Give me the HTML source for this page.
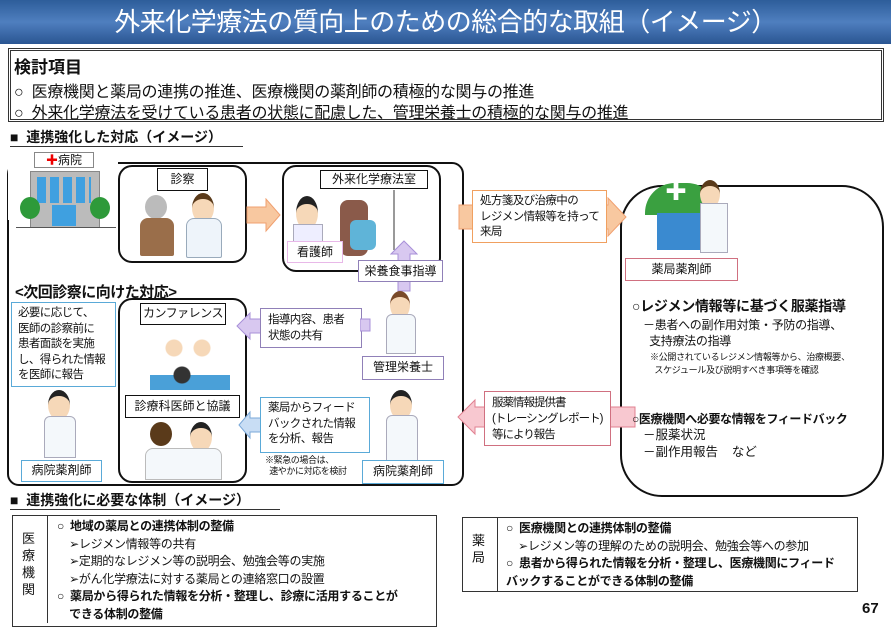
<!DOCTYPE html>
<html><head><meta charset="utf-8"><style>
body{margin:0;width:891px;height:623px;overflow:hidden;background:#fff;font-family:"Liberation Sans","Noto Sans CJK JP",sans-serif;color:#111;position:relative}
.a{position:absolute;white-space:nowrap}
.bx{position:absolute;box-sizing:border-box;background:#fff;white-space:nowrap;overflow:visible}
.t{font-size:11.5px;letter-spacing:-0.6px}
.lbl{position:absolute;box-sizing:border-box;background:#fff;text-align:center;font-size:12px;line-height:1;white-space:nowrap}
b{font-weight:bold}
</style></head><body>
<div class="a" style="left:0;top:0;width:891px;height:44px;background:linear-gradient(#2d5d9a,#4f7fbf 50%,#2a5592);"></div>
<div class="a" style="left:0;top:5px;width:891px;text-align:center;color:#fff;font-size:26px;line-height:34px;letter-spacing:-0.5px">外来化学療法の質向上のための総合的な取組（イメージ）</div>
<div class="bx" style="left:8px;top:48px;width:876px;height:74px;border:3px double #333"></div>
<div class="a" style="left:14px;top:53px;font-size:17px;font-weight:bold">検討項目</div>
<div class="a" style="left:14px;top:78px;font-size:16px;letter-spacing:-0.3px">○&nbsp; 医療機関と薬局の連携の推進、医療機関の薬剤師の積極的な関与の推進</div>
<div class="a" style="left:14px;top:99px;font-size:16px;letter-spacing:-0.3px">○&nbsp; 外来化学療法を受けている患者の状態に配慮した、管理栄養士の積極的な関与の推進</div>
<div class="a" style="left:10px;top:129px;font-size:14px;font-weight:bold;border-bottom:1.5px solid #333;width:233px;line-height:17px">■&nbsp; 連携強化した対応（イメージ）</div>

<div class="bx" style="left:7px;top:162px;width:457px;height:324px;border:2px solid #111;border-radius:12px;background:transparent"></div>
<div class="a" style="left:8px;top:150px;width:110px;height:70px;background:#fff"></div>
<div class="lbl" style="left:34px;top:152px;width:60px;height:16px;border:1px solid #888;font-size:12px;line-height:14px"><span style="color:#e00">✚</span>病院</div>
<div class="a" style="left:30px;top:171px;width:68px;height:55px;background:#bbb;border:1px solid #888"></div>
<div class="a" style="left:37px;top:177px;width:54px;height:26px;background:repeating-linear-gradient(90deg,#3fa0e0 0 9px,transparent 9px 13px)"></div>
<div class="a" style="left:52px;top:205px;width:24px;height:21px;background:#3fa0e0"></div>
<div class="a" style="left:20px;top:197px;width:20px;height:22px;border-radius:50%;background:#2e9a3a"></div>
<div class="a" style="left:90px;top:197px;width:20px;height:22px;border-radius:50%;background:#2e9a3a"></div>
<div class="a" style="left:16px;top:227px;width:100px;height:1px;background:#555"></div>

<div class="bx" style="left:118px;top:165px;width:129px;height:98px;border:2px solid #111;border-radius:14px"></div>
<div class="lbl" style="left:157px;top:168px;width:51px;height:23px;border:1.5px solid #111;line-height:20px">診察</div>
<div class="a" style="left:145px;top:195px;width:22px;height:24px;border-radius:50%;background:#bbb"></div>
<div class="a" style="left:140px;top:218px;width:34px;height:38px;border-radius:8px 8px 2px 2px;background:#9a6e4a"></div>
<div class="a" style="left:192px;top:193px;width:22px;height:24px;border-radius:50%;background:#f6d8b8;border-top:6px solid #5a3a1a"></div>
<div class="a" style="left:186px;top:218px;width:34px;height:38px;border-radius:8px 8px 2px 2px;background:#eef4fa;border:1px solid #9ab"></div>
<svg class="a" style="left:246px;top:198px" width="36" height="36"><polygon points="1,9 20,9 20,1 34,17 20,33 20,25 1,25" fill="#f8c8a0" stroke="#f0a070"/></svg>

<div class="bx" style="left:282px;top:165px;width:159px;height:107px;border:2px solid #111;border-radius:14px"></div>
<div class="lbl" style="left:320px;top:170px;width:108px;height:19px;border:1.5px solid #111;line-height:16px">外来化学療法室</div>
<div class="a" style="left:296px;top:196px;width:22px;height:26px;border-radius:50%;background:#f6d8b8;border-top:8px solid #222"></div>
<div class="a" style="left:293px;top:224px;width:28px;height:18px;background:#eef;border:1px solid #aab"></div>
<div class="a" style="left:340px;top:200px;width:28px;height:56px;border-radius:8px;background:#8a5a4a"></div>
<div class="a" style="left:350px;top:220px;width:26px;height:30px;background:#5fb4d8;border-radius:6px"></div>
<div class="a" style="left:393px;top:190px;width:2px;height:60px;background:#999"></div>
<div class="lbl" style="left:287px;top:241px;width:56px;height:22px;border:1px solid #e8b8e8;line-height:20px">看護師</div>
<svg class="a" style="left:390px;top:240px" width="28" height="52"><polygon points="14,1 27,14 20,14 20,51 8,51 8,14 1,14" fill="#d8c8f0" stroke="#a890d8"/></svg>
<div class="lbl" style="left:358px;top:260px;width:85px;height:22px;border:1px solid #9080b8;line-height:20px">栄養食事指導</div>

<div class="a" style="left:15px;top:281px;font-size:15px;font-weight:bold;letter-spacing:-0.5px">&lt;次回診察に向けた対応&gt;</div>
<div class="bx t" style="left:11px;top:302px;width:105px;height:85px;border:1.5px solid #5aaad8;line-height:15.5px;padding:3px 0 0 6px">必要に応じて、<br>医師の診察前に<br>患者面談を実施<br>し、得られた情報<br>を医師に報告</div>
<div class="a" style="left:48px;top:390px;width:22px;height:24px;border-radius:50%;background:#f6d8b8;border-top:6px solid #222"></div>
<div class="a" style="left:44px;top:416px;width:30px;height:40px;background:#f4f8fb;border:1px solid #aab;border-radius:6px 6px 0 0"></div>
<div class="lbl" style="left:21px;top:460px;width:81px;height:22px;border:1.5px solid #5aaad8;line-height:19px">病院薬剤師</div>

<div class="bx" style="left:118px;top:298px;width:129px;height:185px;border:2px solid #111;border-radius:14px"></div>
<div class="lbl" style="left:140px;top:303px;width:86px;height:22px;border:1.5px solid #111;line-height:19px;letter-spacing:-0.5px">カンファレンス</div>
<div class="a" style="left:150px;top:330px;width:80px;height:60px;background:radial-gradient(circle at 30% 30%,#f6d8b8 0 8px,transparent 9px),radial-gradient(circle at 65% 30%,#f6d8b8 0 8px,transparent 9px),radial-gradient(circle at 40% 75%,#333 0 8px,transparent 9px),linear-gradient(transparent 75%,#4aa0d8 75%)"></div>
<div class="lbl" style="left:125px;top:395px;width:115px;height:23px;border:1.5px solid #111;line-height:20px">診療科医師と協議</div>
<div class="a" style="left:150px;top:422px;width:22px;height:24px;border-radius:50%;background:#5a3a1a"></div>
<div class="a" style="left:190px;top:422px;width:22px;height:24px;border-radius:50%;background:#f6d8b8;border-top:6px solid #222"></div>
<div class="a" style="left:145px;top:448px;width:75px;height:30px;background:#f4f8fb;border:1px solid #bbb;border-radius:8px 8px 0 0"></div>

<svg class="a" style="left:236px;top:306px" width="30" height="40"><polygon points="1,20 14,7 14,13 29,13 29,27 14,27 14,33" fill="#d8c8f0" stroke="#a890d8"/></svg>
<div class="bx t" style="left:260px;top:308px;width:102px;height:40px;border:1.5px solid #9080b8;line-height:16px;padding:3px 0 0 7px">指導内容、患者<br>状態の共有</div>
<svg class="a" style="left:360px;top:318px" width="14" height="20"><rect x="0" y="1" width="10" height="12" fill="#d8c8f0" stroke="#a890d8"/></svg>
<div class="a" style="left:390px;top:291px;width:20px;height:22px;border-radius:50%;background:#f6d8b8;border-top:6px solid #7a4a2a"></div>
<div class="a" style="left:386px;top:314px;width:28px;height:38px;background:#f4f8fb;border:1px solid #aab;border-radius:6px 6px 0 0"></div>
<div class="lbl" style="left:362px;top:356px;width:82px;height:24px;border:1.5px solid #9080b8;line-height:21px">管理栄養士</div>

<svg class="a" style="left:238px;top:405px" width="26" height="40"><polygon points="1,20 12,7 12,13 25,13 25,27 12,27 12,33" fill="#c8ddf4" stroke="#7aa8d8"/></svg>
<div class="bx t" style="left:260px;top:397px;width:110px;height:56px;border:1.5px solid #5aaad8;line-height:15.5px;padding:3px 0 0 7px">薬局からフィード<br>バックされた情報<br>を分析、報告</div>
<div class="a" style="left:265px;top:455px;font-size:9px;line-height:11px;letter-spacing:-0.4px">※緊急の場合は、<br>&nbsp;&nbsp;速やかに対応を検討</div>
<div class="a" style="left:390px;top:390px;width:22px;height:24px;border-radius:50%;background:#f6d8b8;border-top:6px solid #222"></div>
<div class="a" style="left:386px;top:415px;width:30px;height:44px;background:#f4f8fb;border:1px solid #aab;border-radius:6px 6px 0 0"></div>
<div class="lbl" style="left:362px;top:460px;width:82px;height:24px;border:1.5px solid #5aaad8;line-height:21px">病院薬剤師</div>

<div class="bx" style="left:620px;top:185px;width:264px;height:312px;border:2px solid #111;border-radius:42px;background:transparent"></div>
<svg class="a" style="left:458px;top:197px" width="170" height="40"><polygon points="1,8 150,8 150,1 168,20 150,39 150,32 1,32" fill="#f8c8a0" stroke="#f0a070"/></svg>
<div class="bx t" style="left:472px;top:190px;width:135px;height:53px;border:1.5px solid #f0a060;line-height:15.5px;padding:3px 0 0 7px">処方箋及び治療中の<br>レジメン情報等を持って<br>来局</div>
<div class="a" style="left:645px;top:183px;width:72px;height:32px;background:#3aa040;border-radius:30px 30px 0 0"></div>
<div class="a" style="left:665px;top:180px;font-size:22px;color:#fff;font-weight:bold;line-height:24px">✚</div>
<div class="a" style="left:657px;top:213px;width:48px;height:37px;background:#3a8ad0"></div>
<div class="a" style="left:700px;top:180px;width:20px;height:22px;border-radius:50%;background:#f6d8b8;border-top:6px solid #5a3a1a"></div>
<div class="a" style="left:700px;top:203px;width:26px;height:48px;background:#f4f8fb;border:1px solid #aab"></div>
<div class="lbl" style="left:625px;top:258px;width:113px;height:23px;border:1.5px solid #d07080;line-height:20px">薬局薬剤師</div>
<div class="a" style="left:632px;top:296px;font-size:14px;font-weight:bold;letter-spacing:-0.3px">○レジメン情報等に基づく服薬指導</div>
<div class="a" style="left:643px;top:317px;font-size:12px;line-height:16px;letter-spacing:-0.3px">－患者への副作用対策・予防の指導、<br>&nbsp;&nbsp;支持療法の指導</div>
<div class="a" style="left:650px;top:351px;font-size:9px;line-height:12.5px;letter-spacing:-0.3px">※公開されているレジメン情報等から、治療概要、<br>&nbsp;&nbsp;スケジュール及び説明すべき事項等を確認</div>
<svg class="a" style="left:457px;top:397px" width="180" height="40"><polygon points="1,20 18,3 18,10 178,10 178,30 18,30 18,37" fill="#f8c8d0" stroke="#e08090"/></svg>
<div class="bx t" style="left:484px;top:391px;width:127px;height:55px;border:1.5px solid #d07080;line-height:16px;padding:3px 0 0 7px;letter-spacing:-1px">服薬情報提供書<br>(トレーシングレポート)<br>等により報告</div>
<div class="a" style="left:632px;top:410px;font-size:12px;font-weight:bold;letter-spacing:-0.4px">○医療機関へ必要な情報をフィードバック</div>
<div class="a" style="left:643px;top:427px;font-size:12.5px;line-height:17px">－服薬状況<br>－副作用報告&nbsp;&nbsp;&nbsp;&nbsp;など</div>

<div class="a" style="left:10px;top:492px;font-size:14px;font-weight:bold;border-bottom:1.5px solid #333;width:270px;line-height:17px">■&nbsp; 連携強化に必要な体制（イメージ）</div>
<div class="bx" style="left:12px;top:515px;width:425px;height:112px;border:1.5px solid #333"></div>
<div class="a" style="left:47px;top:515px;width:1px;height:108px;background:#333"></div>
<div class="a" style="left:22px;top:530px;font-size:13px;line-height:17px;white-space:normal;width:16px">医療機関</div>
<div class="a" style="left:57px;top:518px;font-size:12px;line-height:17.5px;letter-spacing:-0.3px">○&nbsp; <b>地域の薬局との連携体制の整備</b><br>&nbsp;&nbsp;&nbsp;&nbsp;➢レジメン情報等の共有<br>&nbsp;&nbsp;&nbsp;&nbsp;➢定期的なレジメン等の説明会、勉強会等の実施<br>&nbsp;&nbsp;&nbsp;&nbsp;➢がん化学療法に対する薬局との連絡窓口の設置<br>○&nbsp; <b>薬局から得られた情報を分析・整理し、診療に活用することが</b><br>&nbsp;&nbsp;&nbsp;&nbsp;<b>できる体制の整備</b></div>
<div class="bx" style="left:462px;top:517px;width:396px;height:75px;border:1.5px solid #333"></div>
<div class="a" style="left:497px;top:517px;width:1px;height:75px;background:#333"></div>
<div class="a" style="left:472px;top:532px;font-size:13px;line-height:17px;white-space:normal;width:16px">薬局</div>
<div class="a" style="left:506px;top:520px;font-size:12px;line-height:17.5px;letter-spacing:-0.3px">○&nbsp; <b>医療機関との連携体制の整備</b><br>&nbsp;&nbsp;&nbsp;&nbsp;➢レジメン等の理解のための説明会、勉強会等への参加<br>○&nbsp; <b>患者から得られた情報を分析・整理し、医療機関にフィード</b><br><b>バックすることができる体制の整備</b></div>
<div class="a" style="left:862px;top:600px;font-size:15px;font-weight:bold">67</div>
</body></html>
